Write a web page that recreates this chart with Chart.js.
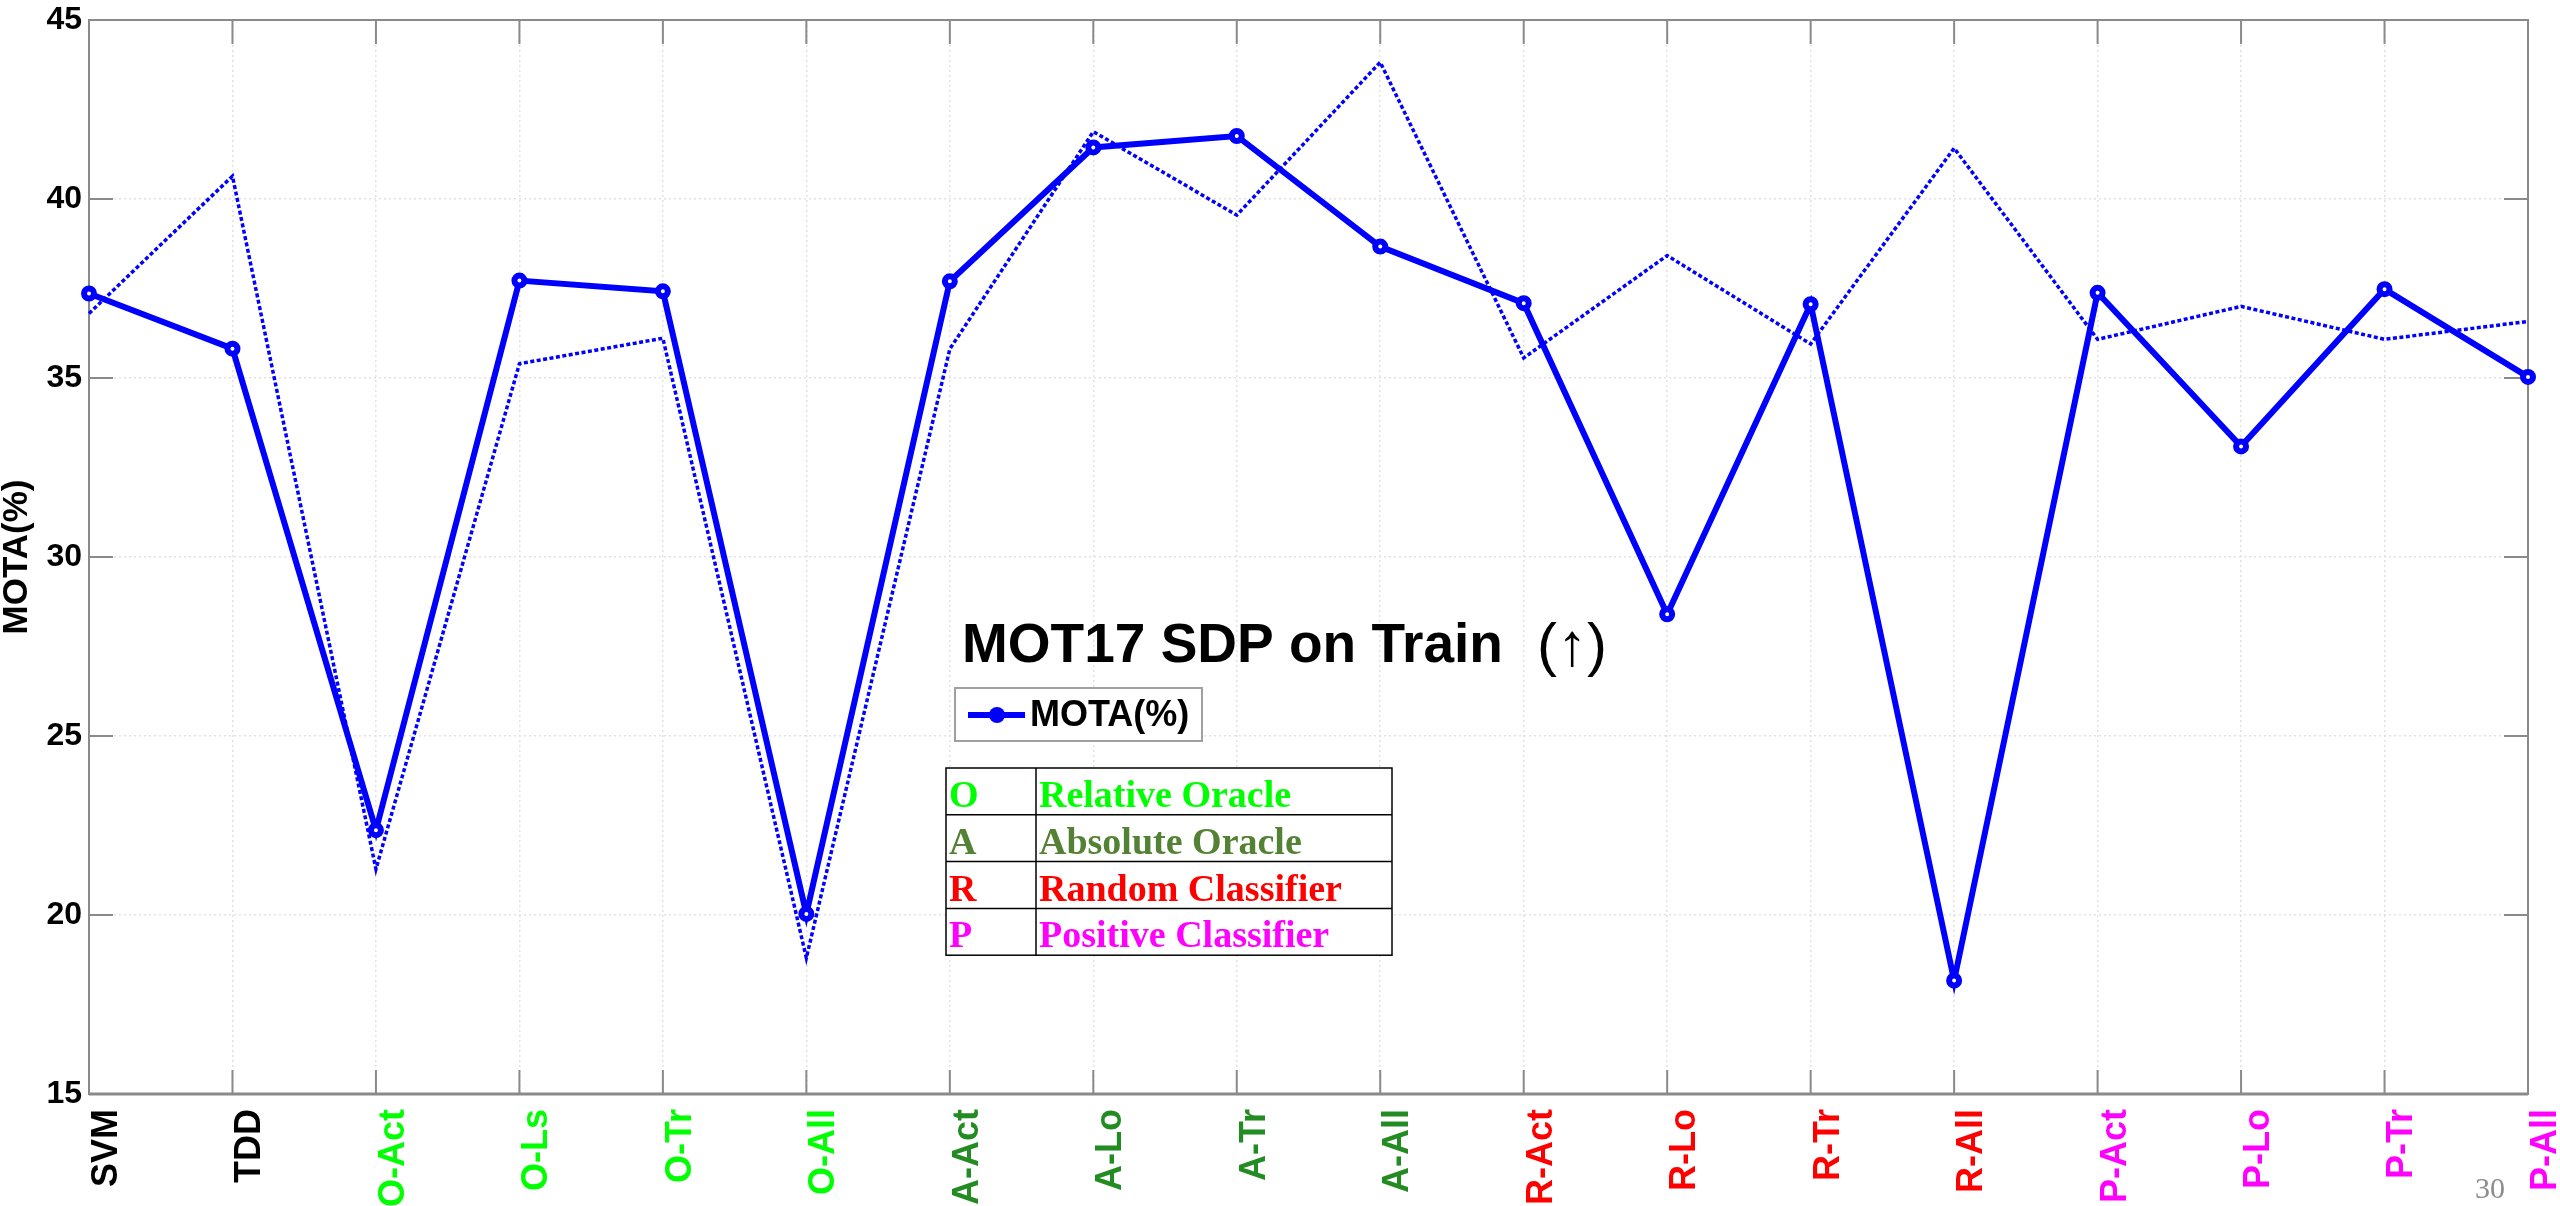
<!DOCTYPE html>
<html>
<head>
<meta charset="utf-8">
<script src="https://cdn.jsdelivr.net/npm/chart.js@4"></script>
<style>
  body { margin: 0; background: #fff; }
  #wrap { width: 2560px; height: 1206px; position: relative; }
</style>
</head>
<body>
<div id="wrap"><canvas id="mota"></canvas></div>
<script>
// categories along the x axis
var categories = ['SVM', 'TDD', 'O-Act', 'O-Ls', 'O-Tr', 'O-All', 'A-Act', 'A-Lo', 'A-Tr', 'A-All',
                  'R-Act', 'R-Lo', 'R-Tr', 'R-All', 'P-Act', 'P-Lo', 'P-Tr', 'P-All'];
// MOTA(%) - solid line with markers
var motaValues = [37.36, 35.82, 22.37, 37.72, 37.42, 20.03, 37.7, 41.44, 41.76, 38.67,
                  37.09, 28.4, 37.06, 18.17, 37.38, 33.09, 37.48, 35.03];
// second (dotted) series, no legend entry
var dottedValues = [36.8, 40.64, 21.28, 35.4, 36.11, 18.8, 35.81, 41.88, 39.55, 43.82,
                    35.56, 38.42, 35.95, 41.42, 36.08, 37.0, 36.08, 36.58];
var yMin = 15, yMax = 45, yStep = 5;

// abbreviation table
var tableKeys = ['O', 'A', 'R', 'P'];
var tableNames = ['Relative Oracle', 'Absolute Oracle', 'Random Classifier', 'Positive Classifier'];

var labelColors = { O: '#00ff00', A: '#228b22', R: '#ff0000', P: '#ff00ff' };
var tableColors = { O: '#00ff00', A: '#548235', R: '#ff0000', P: '#ff00ff' };
var sans = "'Liberation Sans', Arial, Helvetica, sans-serif";
var serif = "'Liberation Serif', 'Times New Roman', serif";

function groupColor(label) {
    var k = label.split('-')[0];
    return labelColors[k] || '#000000';
}

function line(ctx, x1, y1, x2, y2) {
    ctx.beginPath();
    ctx.moveTo(x1, y1);
    ctx.lineTo(x2, y2);
    ctx.stroke();
}

var frame = {
    id: 'frame',
    beforeDatasetsDraw: function(chart) {
        var ctx = chart.ctx, a = chart.chartArea;
        var xs = chart.scales.x, ys = chart.scales.y;
        ctx.save();
        ctx.strokeStyle = '#8a8a8a';
        ctx.lineWidth = 2;
        ys.ticks.forEach(function(t, i) {
            var py = ys.getPixelForTick(i);
            line(ctx, a.left, py, a.left + 24, py);
            line(ctx, a.right - 24, py, a.right, py);
        });
        xs.ticks.forEach(function(t, i) {
            var px = xs.getPixelForTick(i);
            line(ctx, px, a.bottom, px, a.bottom - 24);
            line(ctx, px, a.top, px, a.top + 24);
        });
        ctx.strokeRect(a.left, a.top, a.right - a.left, a.bottom - a.top);
        ctx.lineWidth = 3;
        line(ctx, a.left, a.bottom, a.right, a.bottom);
        ctx.restore();
    },
    afterDraw: function(chart) {
        var ctx = chart.ctx;
        ctx.save();

        // title
        ctx.fillStyle = '#000';
        ctx.textBaseline = 'alphabetic';
        ctx.font = 'bold 55px ' + sans;
        var t1 = 'MOT17 SDP on Train';
        ctx.fillText(t1, 962, 662);
        var w1 = ctx.measureText(t1).width;
        ctx.font = '60px ' + sans;
        ctx.fillText('(\u2191)', 962 + w1 + 34, 665);

        // legend
        var ds = chart.data.datasets[0];
        ctx.fillStyle = '#fff';
        ctx.fillRect(955, 688, 247, 53);
        ctx.strokeStyle = '#a0a0a0';
        ctx.lineWidth = 2;
        ctx.strokeRect(955, 688, 247, 53);
        ctx.strokeStyle = ds.borderColor;
        ctx.lineWidth = 6;
        line(ctx, 968, 715, 1025, 715);
        ctx.fillStyle = ds.borderColor;
        ctx.beginPath();
        ctx.arc(997, 715, 8, 0, Math.PI * 2);
        ctx.fill();
        ctx.fillStyle = '#000';
        ctx.font = 'bold 36px ' + sans;
        ctx.textBaseline = 'middle';
        ctx.fillText(ds.label, 1030, 716);

        // abbreviation table
        var tx = 946, ty = 768, tw = 446, rh = 46.8, cx = 1036;
        ctx.fillStyle = '#fff';
        ctx.fillRect(tx, ty, tw, rh * tableKeys.length);
        ctx.strokeStyle = '#000';
        ctx.lineWidth = 1.5;
        ctx.strokeRect(tx, ty, tw, rh * tableKeys.length);
        line(ctx, cx, ty, cx, ty + rh * tableKeys.length);
        ctx.font = 'bold 38px ' + serif;
        ctx.textBaseline = 'alphabetic';
        tableKeys.forEach(function(k, i) {
            var top = ty + i * rh;
            if (i > 0) line(ctx, tx, top, tx + tw, top);
            ctx.fillStyle = tableColors[k];
            ctx.fillText(k, tx + 3, top + 39);
            ctx.fillText(tableNames[i], cx + 3, top + 39);
        });

        // page number
        ctx.fillStyle = '#8c8c8c';
        ctx.font = '30px ' + serif;
        ctx.textBaseline = 'middle';
        ctx.fillText('30', 2475, 1190);
        ctx.restore();
    }
};

var ctx = document.getElementById('mota');
var myChart = new Chart(ctx, {
    type: 'line',
    data: {
        labels: categories,
        datasets: [{
            label: 'MOTA(%)',
            data: motaValues,
            borderColor: '#0000ff',
            borderWidth: 6,
            borderJoinStyle: 'miter',
            pointRadius: 5,
            pointBorderWidth: 6,
            pointBackgroundColor: '#ffffff',
            pointBorderColor: '#0000ff',
            fill: false,
            tension: 0,
            clip: false
        }, {
            label: 'dotted',
            data: dottedValues,
            borderColor: '#0000ff',
            borderWidth: 3.5,
            borderDash: [4, 2.5],
            borderJoinStyle: 'miter',
            pointRadius: 0,
            fill: false,
            tension: 0,
            clip: false
        }]
    },
    options: {
        responsive: true,
        maintainAspectRatio: false,
        animation: false,
        devicePixelRatio: 1,
        layout: { padding: { top: 20, right: 32, left: 0, bottom: 0 } },
        plugins: {
            legend: { display: false },
            title: { display: false },
            tooltip: { enabled: false }
        },
        scales: {
            x: {
                type: 'category',
                offset: false,
                afterFit: function(scale) {
                    scale.height = 112;
                    scale.paddingLeft = 0;
                    scale.paddingRight = 0;
                },
                grid: { offset: false, drawTicks: false, color: '#e2e2e2', lineWidth: 1.5 },
                border: { display: false, dash: [2, 3] },
                ticks: {
                    autoSkip: false,
                    maxRotation: 90,
                    minRotation: 90,
                    padding: 15,
                    labelOffset: 18,
                    font: { family: sans, size: 36, weight: 'bold' },
                    color: function(c) { return groupColor(categories[c.index]); }
                }
            },
            y: {
                min: yMin,
                max: yMax,
                afterFit: function(scale) {
                    scale.width = 89;
                    scale.paddingTop = 0;
                    scale.paddingBottom = 0;
                },
                grid: { drawTicks: false, color: '#e2e2e2', lineWidth: 1.5 },
                border: { display: false, dash: [2, 3] },
                title: {
                    display: true,
                    text: 'MOTA(%)',
                    color: '#000',
                    padding: { top: 0, bottom: 0 },
                    font: { family: sans, size: 35, weight: 'bold', lineHeight: 1 }
                },
                ticks: {
                    stepSize: yStep,
                    padding: 7,
                    color: '#000',
                    font: { family: sans, size: 32, weight: 'bold' }
                }
            }
        }
    },
    plugins: [frame]
});
</script>
</body>
</html>
